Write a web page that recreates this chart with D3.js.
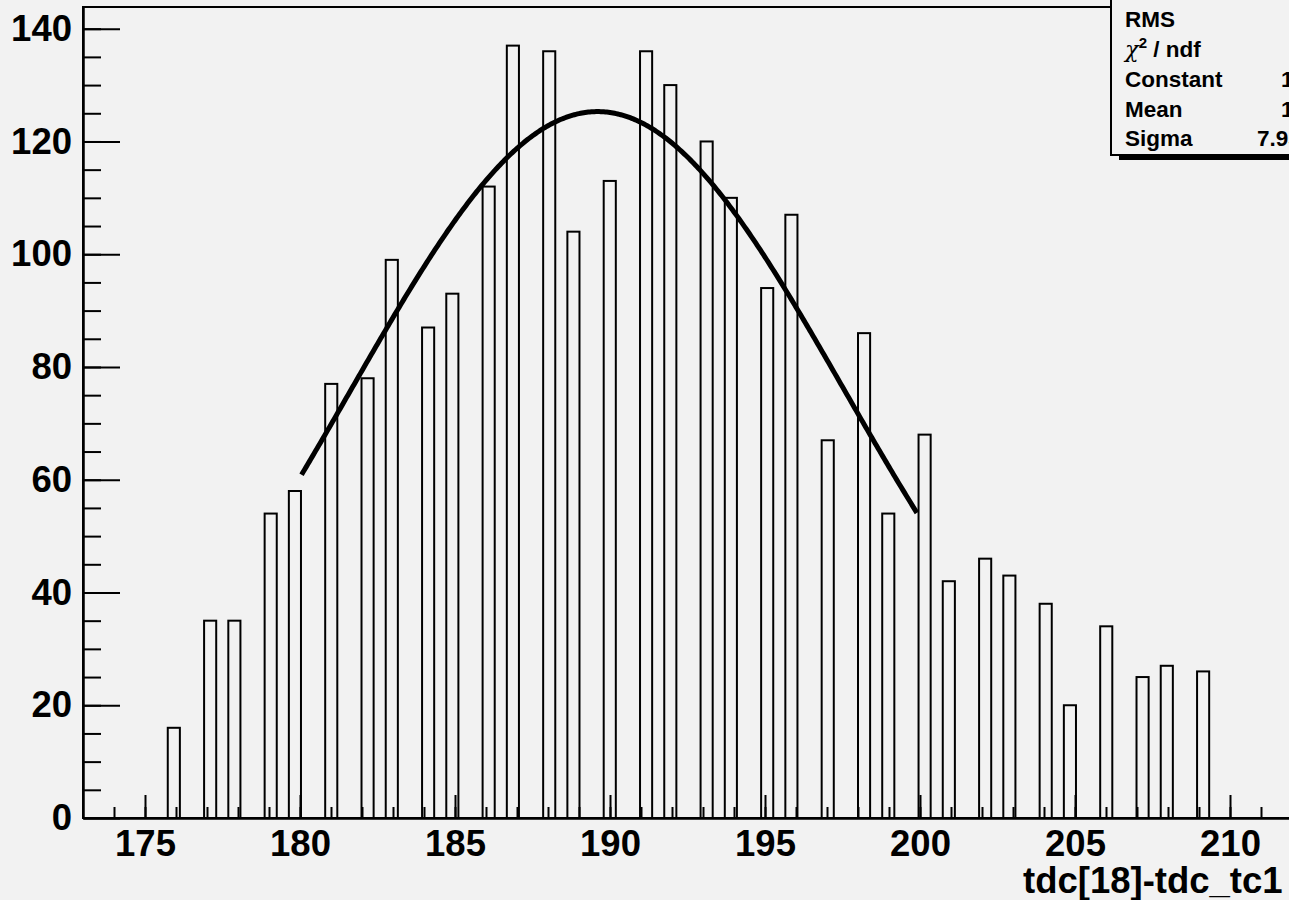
<!DOCTYPE html>
<html>
<head>
<meta charset="utf-8">
<script src="https://cdn.jsdelivr.net/npm/d3@7"></script>
<style>
  body { margin: 0; background: #f2f2f2; }
  svg { display: block; }
  text { font-family: "Liberation Sans", Arial, sans-serif; font-weight: bold; fill: #000; }
</style>
</head>
<body>
<svg id="chart" width="1289" height="900"></svg>
<script>
// histogram contents, one bar per integer tdc difference
let binValues = [176, 177, 178, 179, 180, 181, 182, 183, 184, 185, 186, 187, 188, 189, 190, 191, 192,
                 193, 194, 195, 196, 197, 198, 199, 200, 201, 202, 203, 204, 205, 206, 207, 208, 209]
let counts = [16, 35, 35, 54, 58, 77, 78, 99, 87, 93, 112, 137, 136, 104, 113, 136, 130,
              120, 110, 94, 107, 67, 86, 54, 68, 42, 46, 43, 38, 20, 34, 25, 27, 26]

// histogram binning: 128 bins over [173, 223]
let histMin = 173
let histMax = 223
let nBins = 128
let binWidth = (histMax - histMin) / nBins

let xMajorTicks = [175, 180, 185, 190, 195, 200, 205, 210]
let yMajorTicks = [0, 20, 40, 60, 80, 100, 120, 140]

// gaussian fit
let fitConstant = 125.3
let fitMean = 189.6
let fitSigma = 7.95
let fitRange = [180.05, 199.9]

let statLabels = ["RMS", "\u03c7", "Constant", "Mean", "Sigma"]
let statValues = ["", "", "125.3 \u00b1 3.3", "189.6 \u00b1 0.2", "7.95 \u00b1 0.19"]

let svg = d3.select("#chart")
let padLeft = 83, padBottom = 818, padTop = 7
let yMax = 1.05 * d3.max(counts)

let x = d3.scaleLinear().domain([histMin, histMax]).range([padLeft, padLeft + (histMax - histMin) * 31])
let y = d3.scaleLinear().domain([0, yMax]).range([padBottom, padTop])

let data = binValues.map((v, i) => {
    let lo = histMin + binWidth * Math.floor((v - histMin) / binWidth + 1e-9)
    return { lo: lo, hi: lo + binWidth, n: counts[i] }
})

// frame
svg.append("rect")
    .attr("x", padLeft).attr("y", padTop)
    .attr("width", x(histMax) - padLeft).attr("height", padBottom - padTop)
    .attr("fill", "none").attr("stroke", "#000").attr("stroke-width", 2)

// bars
svg.selectAll(".bar")
    .data(data)
    .enter().append("rect")
    .attr("class", "bar")
    .attr("x", d => x(d.lo))
    .attr("y", d => y(d.n))
    .attr("width", d => x(d.hi) - x(d.lo))
    .attr("height", d => padBottom - y(d.n))
    .attr("fill", "none")
    .attr("stroke", "#000")
    .attr("stroke-width", 2)

// x axis minor + major
let xMinor = d3.range(histMin + 1, 214, 1)
svg.append("g")
    .attr("transform", "translate(0," + padBottom + ")")
    .call(d3.axisBottom(x).tickValues(xMinor).tickSize(-11).tickSizeOuter(0).tickFormat(""))
svg.append("g")
    .attr("class", "xaxis")
    .attr("transform", "translate(0," + padBottom + ")")
    .call(d3.axisBottom(x).tickValues(xMajorTicks).tickSize(-23).tickSizeOuter(0).tickPadding(12))

// y axis minor + major
let yMinor = d3.range(5, yMax, 5)
svg.append("g")
    .attr("transform", "translate(" + padLeft + ",0)")
    .call(d3.axisLeft(y).tickValues(yMinor).tickSize(-18).tickSizeOuter(0).tickFormat(""))
svg.append("g")
    .attr("class", "yaxis")
    .attr("transform", "translate(" + padLeft + ",0)")
    .call(d3.axisLeft(y).tickValues(yMajorTicks).tickSize(-37).tickSizeOuter(0).tickPadding(11))

svg.selectAll(".domain").attr("stroke", "#000").attr("stroke-width", 2)
svg.selectAll(".tick line").attr("stroke", "#000").attr("stroke-width", 2)
svg.selectAll(".tick text")
    .style("font-family", "'Liberation Sans', Arial, sans-serif")
    .style("font-weight", "bold")
    .style("font-size", "36.5px")
    .attr("fill", "#000")

// fit curve
let fitXs = d3.range(fitRange[0], fitRange[1] + 0.001, 0.05)
let gauss = v => fitConstant * Math.exp(-0.5 * Math.pow((v - fitMean) / fitSigma, 2))
svg.append("path")
    .datum(fitXs)
    .attr("d", d3.line().x(d => x(d)).y(d => y(gauss(d))))
    .attr("fill", "none")
    .attr("stroke", "#000")
    .attr("stroke-width", 5)

// x title
svg.append("text")
    .attr("x", 1023).attr("y", 893)
    .style("font-size", "36.5px")
    .text("tdc[18]-tdc_tc1")

// stats box
svg.append("rect")
    .attr("x", 1119).attr("y", 0)
    .attr("width", 200).attr("height", 160)
    .attr("fill", "#000")
svg.append("rect")
    .attr("x", 1111).attr("y", -20)
    .attr("width", 200).attr("height", 175)
    .attr("fill", "#f2f2f2").attr("stroke", "#000").attr("stroke-width", 2)

let statY = [27, 57, 87, 117, 146]
statLabels.forEach((lab, i) => {
    let t = svg.append("text")
        .attr("x", 1125).attr("y", statY[i])
        .style("font-size", "22.5px")
    if (i == 1) {
        t.append("tspan").style("font-weight", "normal").style("font-family", "'DejaVu Serif', serif")
            .style("font-style", "italic").text(lab)
        t.append("tspan").attr("dy", -9).style("font-size", "15px").text("2")
        t.append("tspan").attr("dy", 9).text(" / ndf")
    } else {
        t.text(lab)
    }
})
let valX = [1300, 1300, 1281, 1281, 1257]
statValues.forEach((v, i) => {
    svg.append("text")
        .attr("x", valX[i]).attr("y", statY[i])
        .style("font-size", "22.5px")
        .text(v)
})
</script>
</body>
</html>
